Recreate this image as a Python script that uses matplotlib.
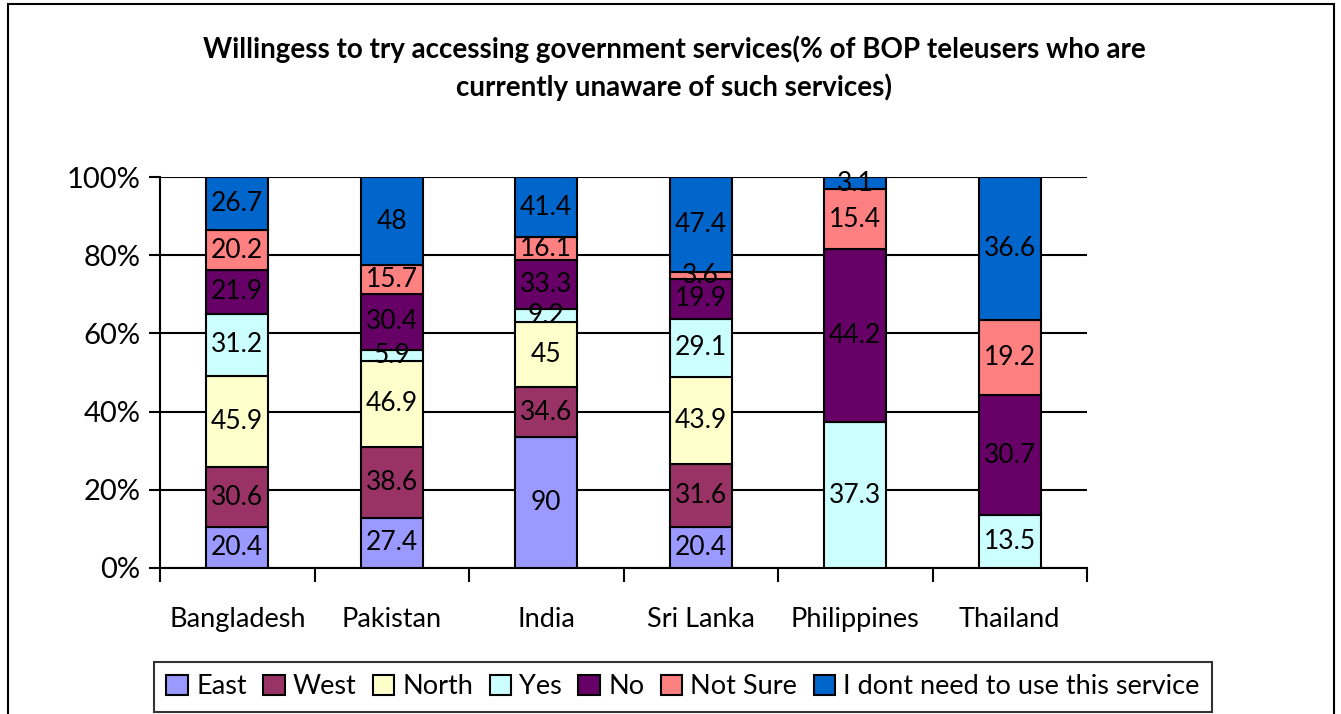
import numpy as np
import matplotlib.pyplot as plt
from matplotlib.patches import Rectangle

plt.rcParams['font.family'] = ['Lato', 'DejaVu Sans']

countries = ['Bangladesh', 'Pakistan', 'India', 'Sri Lanka', 'Philippines', 'Thailand']
series = ['East', 'West', 'North', 'Yes', 'No', 'Not Sure', 'I dont need to use this service']
east = [20.4, 27.4, 90, 20.4, 0, 0]
west = [30.6, 38.6, 34.6, 31.6, 0, 0]
north = [45.9, 46.9, 45, 43.9, 0, 0]
yes = [31.2, 5.9, 9.2, 29.1, 37.3, 13.5]
no = [21.9, 30.4, 33.3, 19.9, 44.2, 30.7]
not_sure = [20.2, 15.7, 16.1, 3.6, 15.4, 19.2]
no_need = [26.7, 48, 41.4, 47.4, 3.1, 36.6]
colors = ['#9999FF', '#993366', '#FFFFCC', '#CCFFFF', '#660066', '#FF8080', '#0066CC']

data = np.array([east, west, north, yes, no, not_sure, no_need])
totals = data.sum(axis=0)
pct = data / totals * 100

fig = plt.figure(figsize=(13.41, 7.14), dpi=100)
# outer chart frame
fig.patches.append(Rectangle((8 / 1341, -0.05), 1326 / 1341, 1.05 - 4 / 714,
                             transform=fig.transFigure, fill=False,
                             edgecolor='black', lw=1.5))

ax = fig.add_axes([160 / 1341, 146 / 714, 927 / 1341, 391 / 714])
x = np.arange(len(countries))
bottom = np.zeros(len(countries))
for i, name in enumerate(series):
    ax.bar(x, pct[i], 0.4, bottom=bottom, color=colors[i], edgecolor='black',
           lw=1.5, label=name, zorder=3)
    for j in range(len(countries)):
        if data[i, j] > 0:
            ax.text(x[j], bottom[j] + pct[i, j] / 2, f'{data[i, j]:g}',
                    ha='center', va='center', fontsize=19, zorder=4)
    bottom += pct[i]

ax.set_xlim(-0.5, len(countries) - 0.5)
ax.set_ylim(0, 100)
ax.set_yticks(np.arange(0, 101, 20))
ax.set_yticklabels([f'{v}%' for v in range(0, 101, 20)], fontsize=21)
ax.yaxis.grid(True, color='black', lw=1.5, zorder=0)
ax.set_xticks(x)
ax.set_xticklabels(countries, fontsize=19.5)
ax.set_xticks(np.arange(-0.5, len(countries)), minor=True)
ax.tick_params(axis='x', which='major', length=0, pad=28)
ax.tick_params(axis='x', which='minor', length=10, width=1.5)
ax.tick_params(axis='y', length=8, width=1.5, pad=6)
for s in ['top', 'right']:
    ax.spines[s].set_visible(False)
ax.spines['left'].set_linewidth(1.5)
ax.spines['bottom'].set_linewidth(1.5)

fig.text(0.5027, 1 - 68 / 714, 'Willingess to try accessing government services(% of BOP teleusers who are\ncurrently unaware of such services)',
         ha='center', va='center', fontsize=20, fontweight='bold', linespacing=1.45)

leg = fig.legend(loc='center', bbox_to_anchor=(683 / 1341, 1 - 687 / 714), ncol=7,
                 fontsize=19.5, frameon=True, fancybox=False, edgecolor='black',
                 handlelength=0.8, handleheight=0.8, handletextpad=0.3,
                 columnspacing=0.6, borderpad=0.45, borderaxespad=0)
leg.get_frame().set_linewidth(1.5)

fig.savefig('out.png', dpi=100)
